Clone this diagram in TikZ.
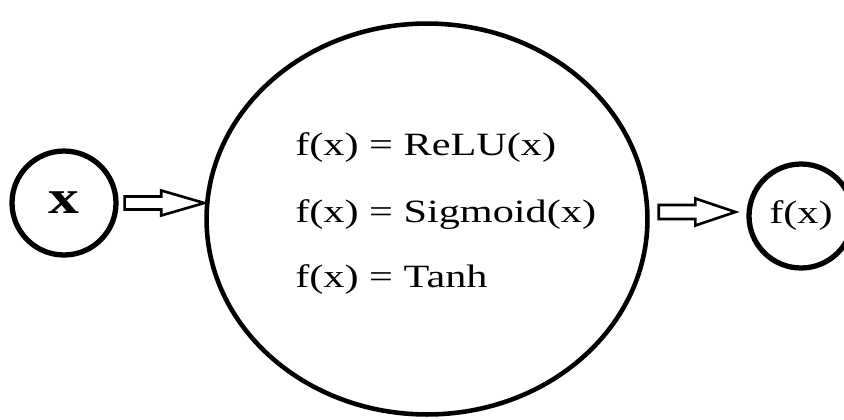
\documentclass[tikz,border=0pt]{standalone}
\usepackage{fontspec}
\setmainfont{Liberation Serif}[FakeStretch=1.3]
\usetikzlibrary{calc, shapes.geometric}

\begin{document}
\begin{tikzpicture}[x=0.02cm, y=-0.02cm,
                        unit/.style={circle, draw, line width=3pt, minimum size=2.08cm, inner sep=0pt},
                        actfun/.style={ellipse, draw, line width=2.6pt, minimum width=8.82cm, minimum height=7.82cm, inner sep=0pt},
                        blockarrow/.style={draw, line width=1.5pt, line join=miter},
                        eqn/.style={anchor=base west, inner sep=0pt, font=\fontsize{18.5}{21}\selectfont}]
                        \useasboundingbox (0,0) rectangle (844,419);

                        \node[unit, font=\bfseries\fontsize{27}{30}\selectfont] (xin) at (64,203) {x};
                        \node[actfun] (act) at (427,219) {};
                        \node[unit, font=\fontsize{18.5}{21}\selectfont] (out) at (801,216) {f(x)};

                        \node[eqn] (relu) at (295,155) {f(x) = ReLU(x)};
                        \node[eqn] (sigm) at (295,222) {f(x) = Sigmoid(x)};
                        \node[eqn] (tanh) at (295,287) {f(x) = Tanh};

                        \coordinate (tip1) at (act.west |- xin);
                        \coordinate (st2) at ($(act.east |- out)+(9,-4)$);
                        \coordinate (tip2) at ($(out.west)+(-11,-4)$);

                        \draw[blockarrow] ($(xin.east)+(6,-6.5)$) -- ($(tip1)+(-43,-6.5)$) -- ++(0,-6) -- (tip1)
                            -- ++(-43,12.5) -- ++(0,-6) -- ($(xin.east)+(6,6.5)$) -- cycle;
                        \draw[blockarrow] ($(st2)+(0,-7)$) -- ($(tip2)+(-40,-7)$) -- ++(0,-6.5) -- (tip2)
                            -- ++(-40,13.5) -- ++(0,-6.5) -- ($(st2)+(0,7)$) -- cycle;
                    \end{tikzpicture}
\end{document}
